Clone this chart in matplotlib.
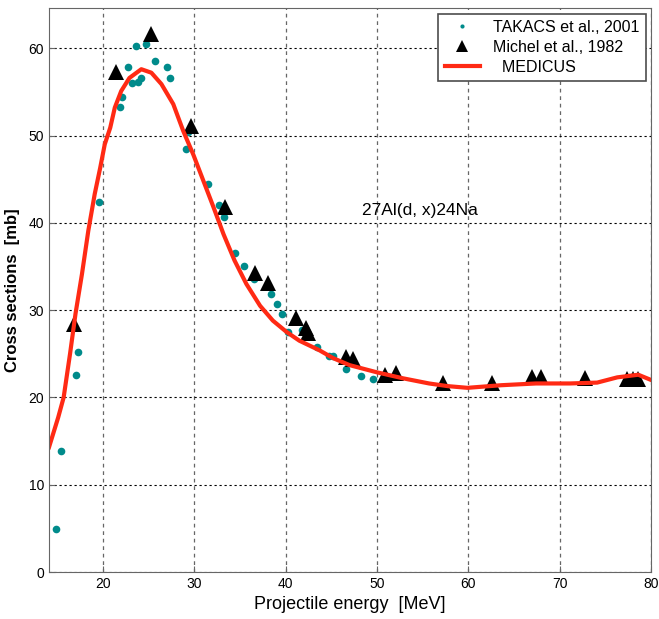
import matplotlib
matplotlib.use("Agg")
import matplotlib.pyplot as plt

# TAKACS et al., 2001
takacs_x = [14.9, 15.4, 17.0, 17.3, 19.6, 21.9, 22.1, 22.7, 23.2, 23.6, 23.8, 24.2,
            24.7, 25.7, 27.0, 27.3, 29.1, 29.3, 31.5, 32.7, 33.3, 34.5, 35.4, 36.5,
            38.4, 39.1, 39.6, 40.3, 41.8, 43.4, 44.7, 45.2, 46.6, 48.2, 49.6]
takacs_y = [4.9, 13.9, 22.6, 25.2, 42.4, 53.3, 54.4, 57.9, 56.0, 60.3, 56.1, 56.6,
            60.5, 58.5, 57.8, 56.6, 48.5, 50.4, 44.5, 42.1, 40.7, 36.6, 35.0, 33.6,
            31.8, 30.7, 29.6, 27.5, 27.7, 25.8, 24.8, 24.8, 23.2, 22.5, 22.1]

# Michel et al., 1982
michel_x = [16.8, 21.4, 25.3, 29.6, 33.4, 36.6, 38.1, 41.1, 42.2, 42.5, 46.6, 47.4,
            50.9, 52.1, 57.2, 62.6, 67.0, 68.0, 72.8, 77.4, 78.0, 78.6]
michel_y = [28.4, 57.3, 61.6, 51.1, 41.8, 34.3, 33.1, 29.1, 28.0, 27.4, 24.6, 24.4,
            22.6, 22.8, 21.6, 21.6, 22.3, 22.3, 22.2, 22.1, 22.1, 22.1]

# MEDICUS
med_x = [14.1, 15.1, 15.7, 16.4, 17.0, 17.7, 18.4, 19.1, 19.7, 20.2, 20.8, 21.3,
         22.0, 22.9, 24.2, 25.3, 26.4, 27.7, 28.8, 29.9, 31.0, 32.1, 33.2, 34.4,
         35.7, 37.2, 38.6, 40.1, 41.5, 43.7, 45.2, 47.0, 49.9, 52.8, 55.7, 57.7,
         59.9, 63.6, 67.4, 71.1, 74.1, 76.3, 78.6, 80.0]
med_y = [14.3, 17.7, 20.0, 25.0, 29.6, 34.1, 39.1, 43.3, 46.3, 49.0, 50.9, 53.2,
         55.1, 56.6, 57.6, 57.2, 55.9, 53.6, 50.5, 47.8, 44.8, 41.8, 38.7, 35.7,
         33.0, 30.5, 28.8, 27.5, 26.5, 25.4, 24.5, 23.7, 22.9, 22.2, 21.6, 21.3,
         21.1, 21.4, 21.6, 21.6, 21.7, 22.3, 22.6, 22.0]

narrow = ['Liberation Sans Narrow', 'Liberation Sans', 'DejaVu Sans']

fig = plt.figure(figsize=(6.59, 6.19), dpi=100)
ax = fig.add_axes([0.0744, 0.0759, 0.9136, 0.911])

ax.plot(takacs_x, takacs_y, 'o', color='#008B8B', markersize=5.5,
        markeredgewidth=0, label='TAKACS et al., 2001')
ax.plot(michel_x, michel_y, '^', color='black', markersize=11,
        markeredgewidth=0, label='Michel et al., 1982')
ax.plot(med_x, med_y, '-', color='#FF2A14', linewidth=3,
        solid_joinstyle='round', label='  MEDICUS')

ax.set_xlim(14.1, 80)
ax.set_ylim(0, 64.6)
ax.set_xticks([20, 30, 40, 50, 60, 70, 80])
ax.set_yticks([0, 10, 20, 30, 40, 50, 60])
ax.xaxis.grid(True, color='0.4', linestyle=(0, (3, 3)), linewidth=0.9)
ax.yaxis.grid(True, color='black', linestyle=(0, (2, 2.5)), linewidth=0.8)
ax.set_axisbelow(True)
for lab in ax.get_xticklabels() + ax.get_yticklabels():
    lab.set_family(narrow)
    lab.set_fontsize(10)
ax.tick_params(direction='in', length=4, color='0.4')
for s in ax.spines.values():
    s.set_color('0.4')

ax.set_xlabel('Projectile energy  [MeV]', fontsize=13, family=narrow, labelpad=4)
ax.set_ylabel('Cross sections  [mb]', fontsize=12, fontweight='bold',
              family=['Liberation Sans', 'DejaVu Sans'], labelpad=6)

ax.text(48.4, 41.4, '27Al(d, x)24Na', fontsize=12.5, family=narrow,
        ha='left', va='center')

leg = ax.legend(loc='upper right', prop={'family': narrow, 'size': 11.5},
                fancybox=False, edgecolor='0.3', framealpha=1,
                borderaxespad=0.35, handlelength=2.2, labelspacing=0.3,
                markerscale=0.8)
leg.get_frame().set_linewidth(1.2)
leg.legend_handles[0].set_markersize(3)

fig.savefig('out.png', dpi=100)
